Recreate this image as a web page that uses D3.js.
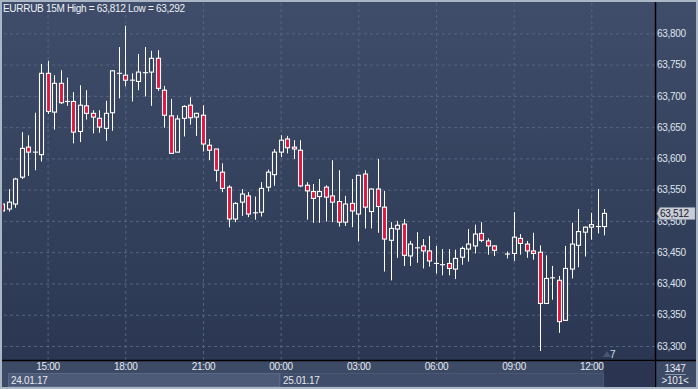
<!DOCTYPE html>
<html>
<head>
<meta charset="utf-8">
<script src="https://cdn.jsdelivr.net/npm/d3@7"></script>
<style>
  body { margin: 0; background: #aab6c6; }
  svg text { font-family: "Liberation Sans", Arial, sans-serif; }
</style>
</head>
<body>
<div id="chart"></div>
<script>
// EURRUB 15M candles, 24.01.17 13:15 -> 25.01.17 12:30 (08:30 bar missing)
let startTime = new Date(2017, 0, 24, 13, 15);

let opens = [63.527,63.519,63.527,63.570,63.618,63.610,63.606,63.736,63.674,63.720,
  63.691,63.691,63.643,63.684,63.672,63.664,63.648,63.673,63.736,63.733,
  63.725,63.723,63.737,63.738,63.760,63.709,63.668,63.610,63.664,63.685,
  63.666,63.669,63.621,63.615,63.578,63.554,63.503,63.530,63.540,63.513,
  63.514,63.554,63.574,63.610,63.631,63.618,63.613,63.557,63.547,63.539,
  63.554,63.540,63.531,63.498,63.528,63.511,63.575,63.515,63.551,63.522,
  63.469,63.487,63.495,63.444,63.457,63.460,63.452,63.432,63.430,63.432,
  63.423,63.442,63.455,63.460,63.480,63.468,63.460,null,63.447,63.448,
  63.472,63.463,63.452,63.450,63.368,63.409,63.405,63.341,63.423,63.461,
  63.482,63.490,63.491,63.491];

let highs = [63.529,63.551,63.569,63.642,63.637,63.673,63.751,63.756,63.733,63.741,
  63.729,63.706,63.717,63.709,63.677,63.677,63.692,63.741,63.778,63.812,
  63.736,63.767,63.778,63.772,63.773,63.716,63.695,63.669,63.685,63.698,
  63.673,63.685,63.631,63.615,63.592,63.557,63.530,63.551,63.546,63.539,
  63.562,63.582,63.615,63.637,63.636,63.629,63.629,63.562,63.559,63.567,
  63.557,63.597,63.581,63.540,63.567,63.573,63.581,63.552,63.599,63.548,
  63.498,63.500,63.503,63.468,63.482,63.471,63.476,63.460,63.455,63.455,
  63.454,63.459,63.487,63.494,63.498,63.472,63.461,null,63.451,63.514,
  63.479,63.468,63.481,63.461,63.445,63.428,63.412,63.460,63.497,63.519,
  63.491,63.513,63.551,63.519];

let lows = [63.514,63.515,63.521,63.567,63.572,63.581,63.595,63.671,63.646,63.687,
  63.684,63.624,63.626,63.662,63.640,63.641,63.628,63.644,63.696,63.715,
  63.691,63.709,63.699,63.684,63.708,63.649,63.608,63.610,63.635,63.654,
  63.636,63.611,63.597,63.563,63.546,63.490,63.498,63.508,63.506,63.502,
  63.507,63.547,63.556,63.602,63.608,63.599,63.554,63.502,63.497,63.497,
  63.499,63.498,63.491,63.492,63.490,63.467,63.488,63.488,63.481,63.419,
  63.405,63.441,63.428,63.428,63.433,63.424,63.427,63.416,63.413,63.413,
  63.407,63.430,63.435,63.448,63.466,63.446,63.444,null,63.440,63.436,
  63.446,63.441,63.438,63.292,63.368,63.374,63.321,63.341,63.408,63.426,
  63.443,63.470,63.480,63.477];

let closes = [63.516,63.530,63.567,63.616,63.610,63.610,63.736,63.675,63.720,63.689,
  63.691,63.642,63.685,63.672,63.666,63.650,63.672,63.740,63.736,63.725,
  63.725,63.738,63.737,63.760,63.712,63.669,63.608,63.663,63.683,63.665,
  63.672,63.623,63.613,63.581,63.552,63.503,63.528,63.543,63.511,63.513,
  63.552,63.578,63.610,63.629,63.617,63.615,63.556,63.548,63.536,63.547,
  63.538,63.530,63.498,63.527,63.516,63.573,63.522,63.551,63.523,63.471,
  63.488,63.493,63.445,63.463,63.457,63.452,63.436,63.432,63.430,63.424,
  63.440,63.456,63.463,63.479,63.469,63.460,63.453,null,63.447,63.474,
  63.464,63.452,63.448,63.368,63.408,63.409,63.339,63.424,63.463,63.483,
  63.490,63.494,63.491,63.512];

let priceTicks = [63.30, 63.35, 63.40, 63.45, 63.50, 63.55, 63.60, 63.65, 63.70, 63.75, 63.80];
let dateLabels = ["24.01.17", "25.01.17"];
let titleText = "EURRUB 15M High = 63,812 Low = 63,292";
let lastPrice = 63.512;
let footerTop = "1347";
let footerBottom = ">101<";
let markerText = "7";

// build candle rows
let candles = [];
for (let i = 0; i < opens.length; i++) {
    if (opens[i] === null) continue;
    candles.push({
        t: d3.timeMinute.offset(startTime, i * 15),
        o: opens[i], h: highs[i], l: lows[i], c: closes[i]
    });
}

let W = 698, H = 389;
let plotL = 3, plotR = 655, plotT = 3, plotB = 360;

let viz = d3.select("#chart")
    .append("svg")
        .attr("width", W)
        .attr("height", H);

let defs = viz.append("defs");
let grad = defs.append("linearGradient")
    .attr("id", "bg").attr("x1", 0).attr("y1", 0).attr("x2", 0).attr("y2", 1);
grad.append("stop").attr("offset", "0%").attr("stop-color", "#3f4d6a");
grad.append("stop").attr("offset", "100%").attr("stop-color", "#2b3752");

defs.append("clipPath").attr("id", "plotclip")
    .append("rect")
        .attr("x", plotL).attr("y", plotT)
        .attr("width", plotR - plotL).attr("height", plotB - plotT);

// frame + backgrounds
viz.append("rect").attr("width", W).attr("height", H).attr("fill", "#aab6c6");
viz.append("rect").attr("x", 2).attr("y", 2).attr("width", W - 4).attr("height", plotB - 2)
    .attr("fill", "url(#bg)");
viz.append("rect").attr("x", 2).attr("y", plotB).attr("width", W - 4).attr("height", 27)
    .attr("fill", "#3d4a66");

// scales
let x = d3.scaleTime()
    .domain([new Date(2017, 0, 24, 15, 0), new Date(2017, 0, 25, 12, 0)])
    .range([47.6, 591.3]);

let y = d3.scaleLinear()
    .domain([63.3, 63.8])
    .range([346, 33.3]);

let ru = d3.formatLocale({decimal: ",", thousands: " ", grouping: [3], currency: ["", ""]});
let priceFmt = ru.format(".3f");

// grid
let gridX = viz.append("g")
    .attr("transform", "translate(0," + plotB + ")")
    .call(d3.axisBottom(x).ticks(d3.timeHour.every(3)).tickSize(-(plotB - plotT)).tickFormat(""));
gridX.select(".domain").remove();
gridX.selectAll("line")
    .attr("stroke", "#56647f").attr("stroke-dasharray", "3,3");

let gridY = viz.append("g")
    .attr("transform", "translate(" + plotR + ",0)")
    .call(d3.axisLeft(y).tickValues(priceTicks).tickSize(plotR - plotL).tickFormat(""));
gridY.select(".domain").remove();
gridY.selectAll("line")
    .attr("stroke", "#56647f").attr("stroke-dasharray", "3,3");

// candles
let candleG = viz.append("g").attr("clip-path", "url(#plotclip)");

let bars = candleG.selectAll("g.candle").data(candles).enter().append("g")
    .attr("class", "candle")
    .attr("transform", d => "translate(" + (Math.round(x(d.t)) + 0.5) + ",0)");

bars.append("line")
    .attr("y1", d => y(d.h))
    .attr("y2", d => y(d.l))
    .attr("stroke", "#ffffff")
    .attr("stroke-width", 1);

bars.append("rect")
    .attr("x", -2)
    .attr("width", 4)
    .attr("y", d => y(Math.max(d.o, d.c)))
    .attr("height", d => Math.max(0.01, Math.abs(y(d.o) - y(d.c))))
    .attr("fill", d => d.c >= d.o ? "#34415e" : "#e3133c")
    .attr("stroke", "#ffffff")
    .attr("stroke-width", 1.1);

// black separators
viz.append("line").attr("x1", 2).attr("x2", W - 2).attr("y1", plotB + 0.5).attr("y2", plotB + 0.5)
    .attr("stroke", "#000").attr("stroke-width", 1.5);
viz.append("line").attr("x1", plotR + 0.5).attr("x2", plotR + 0.5).attr("y1", 2).attr("y2", H - 2)
    .attr("stroke", "#000").attr("stroke-width", 1.5);

// price axis labels
let yAxis = viz.append("g")
    .attr("transform", "translate(" + (plotR + 2) + ",0)")
    .call(d3.axisRight(y).tickValues(priceTicks).tickSize(0).tickPadding(0).tickFormat(priceFmt));
yAxis.select(".domain").remove();
yAxis.selectAll("text")
    .attr("fill", "#dfe4ec")
    .style("font-size", "10px")
    .style("letter-spacing", "-0.3px");

// current price tag (covers part of the 63,500 label, as in the original)
let tagY = y(lastPrice);
let tag = viz.append("g");
tag.append("path")
    .attr("d", "M657," + tagY + " L660," + (tagY - 6) + " L695," + (tagY - 6) + " L695," + (tagY + 6) + " L660," + (tagY + 6) + " Z")
    .attr("fill", "#c9ced6").attr("stroke", "#8e97a6").attr("stroke-width", 0.5);
tag.append("text")
    .attr("x", 660).attr("y", tagY + 3.5)
    .attr("fill", "#1a2030")
    .style("font-size", "10px").style("letter-spacing", "-0.3px")
    .text(priceFmt(lastPrice));

// bottom bar: date boxes
viz.append("rect").attr("x", 8.5).attr("y", 373.5).attr("width", 271).attr("height", 13)
    .attr("fill", "#4c5a77").attr("stroke", "#5b6885");
viz.append("rect").attr("x", 280.5).attr("y", 373.5).attr("width", 323).attr("height", 13)
    .attr("fill", "#404d6a").attr("stroke", "#4a5774");
viz.append("rect").attr("x", 604).attr("y", plotB + 1.5).attr("width", 51).attr("height", 25.5)
    .attr("fill", "#2b3551");

viz.append("text").attr("x", 11).attr("y", 384).attr("fill", "#e6e9ef")
    .style("font-size", "10px").style("letter-spacing", "-0.3px").text(dateLabels[0]);
viz.append("text").attr("x", 283).attr("y", 384).attr("fill", "#e6e9ef")
    .style("font-size", "10px").style("letter-spacing", "-0.3px").text(dateLabels[1]);

// time axis labels
let xAxis = viz.append("g")
    .attr("transform", "translate(0," + (plotB + 1) + ")")
    .call(d3.axisBottom(x).ticks(d3.timeHour.every(3)).tickSize(0).tickPadding(2)
        .tickFormat(d3.timeFormat("%H:%M")));
xAxis.select(".domain").remove();
xAxis.selectAll("text")
    .attr("fill", "#e6e9ef")
    .style("font-size", "10px")
    .style("letter-spacing", "-0.3px");

// marker "7"
viz.append("path").attr("d", "M603,357 L607,351 L611,357 Z").attr("fill", "#4a5570");
viz.append("text").attr("x", 610).attr("y", 358).attr("fill", "#cfe0f0")
    .style("font-size", "10px").text(markerText);

// bottom right counter
viz.append("text").attr("x", 675).attr("y", 371.5).attr("text-anchor", "middle")
    .attr("fill", "#e6e9ef").style("font-size", "10px").style("letter-spacing", "-0.3px").text(footerTop);
viz.append("line").attr("x1", 665).attr("x2", 686).attr("y1", 374.5).attr("y2", 374.5)
    .attr("stroke", "#8a96aa");
viz.append("text").attr("x", 675).attr("y", 384).attr("text-anchor", "middle")
    .attr("fill", "#e6e9ef").style("font-size", "10px").style("letter-spacing", "-0.3px").text(footerBottom);

// title
viz.append("text").attr("x", 3).attr("y", 12).attr("fill", "#eef1f5")
    .style("font-size", "10px").style("letter-spacing", "-0.3px")
    .text(titleText);
</script>
</body>
</html>
